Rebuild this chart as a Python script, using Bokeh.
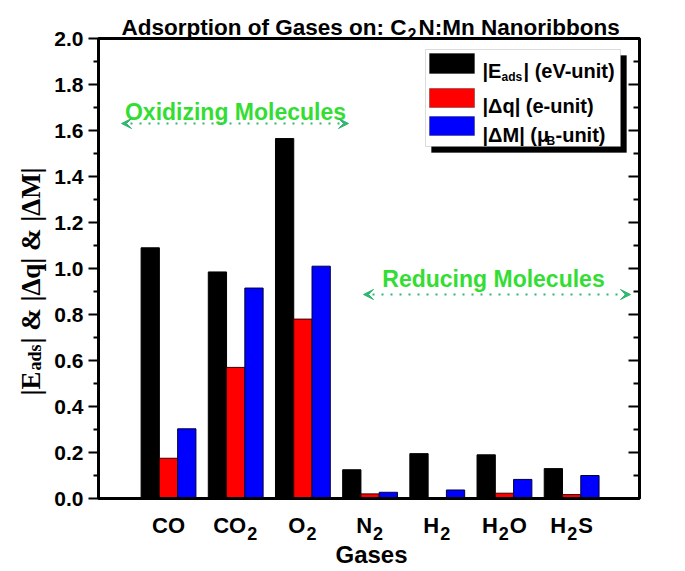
import numpy as np
from bokeh.plotting import figure
from bokeh.models import Label, BoxAnnotation, Arrow, VeeHead, Range1d
from bokeh.core.properties import value
from bokeh.transform import dodge
from bokeh.embed import file_html
from bokeh.resources import INLINE

# ---------------- data ----------------
gases = ["CO", "CO2", "O2", "N2", "H2", "H2O", "H2S"]
gas_label_parts = [
    [("CO", 0)],
    [("CO", 0), ("2", 1)],
    [("O", 0), ("2", 1)],
    [("N", 0), ("2", 1)],
    [("H", 0), ("2", 1)],
    [("H", 0), ("2", 1), ("O", 0)],
    [("H", 0), ("2", 1), ("S", 0)],
]
e_ads = [1.09, 0.985, 1.565, 0.125, 0.195, 0.19, 0.13]
dq = [0.175, 0.57, 0.78, 0.02, 0.0, 0.023, 0.017]
dm = [0.303, 0.915, 1.01, 0.027, 0.037, 0.083, 0.10]
major_ticks = [0.0, 0.2, 0.4, 0.6, 0.8, 1.0, 1.2, 1.4, 1.6, 1.8, 2.0]
minor_ticks = [0.1, 0.3, 0.5, 0.7, 0.9, 1.1, 1.3, 1.5, 1.7, 1.9]
tick_labels = ["0.0", "0.2", "0.4", "0.6", "0.8", "1.0", "1.2", "1.4", "1.6", "1.8", "2.0"]

# ---------------- layout helpers ----------------
CW, CH = 685, 571
FL, FR, FT, FB = 98, 639, 38, 498      # plot-area edges on the page (px)
X0, X1 = -0.042, 8.01
Y0, Y1 = 0.0, 2.0
sx = (X1 - X0) / (FR - FL)
sy = (Y1 - Y0) / (FB - FT)


def xd(px):
    return X0 + (px - FL) * sx


def yd(py):
    return Y1 - (py - FT) * sy


p = figure(width=CW, height=CH,
           x_range=Range1d(xd(0), xd(CW)), y_range=Range1d(yd(CH), yd(0)),
           output_backend="svg", toolbar_location=None,
           min_border=0, min_border_left=0, min_border_right=0,
           min_border_top=0, min_border_bottom=0)
p.axis.visible = False
p.grid.visible = False
p.outline_line_color = None
p.background_fill_color = "white"
p.border_fill_color = "white"

# ---------------- bars ----------------
src = {"x": list(range(1, len(gases) + 1)), "e": e_ads, "q": dq, "m": dm}
bw = 0.272
p.vbar(x=dodge("x", -bw, range=p.x_range), top="e", width=bw, source=src,
       fill_color="black", line_color="black", line_width=1)
p.vbar(x=dodge("x", 0, range=p.x_range), top="q", width=bw, source=src,
       fill_color="#ff0000", line_color="#3a0000", line_width=1)
p.vbar(x=dodge("x", bw, range=p.x_range), top="m", width=bw, source=src,
       fill_color="#0000ff", line_color="#00003a", line_width=1)

# ---------------- axes (drawn by hand) ----------------
p.add_layout(BoxAnnotation(left=X0, right=X1, bottom=Y0, top=Y1, fill_alpha=0,
                           line_color="black", line_width=3, line_alpha=1))
nM, nm = len(major_ticks), len(minor_ticks)
p.segment(x0=[xd(FL - 10)] * nM, y0=major_ticks, x1=[X0] * nM, y1=major_ticks,
          line_color="black", line_width=2)
p.segment(x0=[xd(FL - 5)] * nm, y0=minor_ticks, x1=[X0] * nm, y1=minor_ticks,
          line_color="black", line_width=2)
p.segment(x0=[xd(FR - 11)] * nM, y0=major_ticks, x1=[X1] * nM, y1=major_ticks,
          line_color="black", line_width=2)
p.segment(x0=[xd(FR - 6)] * nm, y0=minor_ticks, x1=[X1] * nm, y1=minor_ticks,
          line_color="black", line_width=2)
p.text(x=[xd(83)] * nM, y=major_ticks, text=tick_labels,
       text_font=value("Liberation Sans"), text_font_style="bold",
       text_font_size=value("21px"), text_color="black",
       text_align="right", text_baseline="middle")


def put(text, px, py, size, color="black", font="Liberation Sans", style="bold",
        align="left", angle=0.0):
    p.add_layout(Label(x=xd(px), y=yd(py), text=text, text_font=font,
                       text_font_size=f"{size}px", text_font_style=style,
                       text_color=color, text_align=align,
                       text_baseline="alphabetic", angle=angle))


# ---------------- title ----------------
put("Adsorption of Gases on: C", 406, 27, 22.5, align="right")
put("2", 407, 33, 16)
put("N:Mn Nanoribbons", 418, 27, 22.5)

# ---------------- category labels ----------------
W = {"C": .722, "O": .778, "N": .722, "H": .722, "S": .667, "2": .556}
MAIN, SUB = 22, 18
for i, parts in enumerate(gas_label_parts):
    widths = [sum(W[c] for c in t) * (SUB if s else MAIN) + (2 if s else 0) for t, s in parts]
    start = -sum(widths) / 2
    for (t, s), w in zip(parts, widths):
        p.add_layout(Label(x=i + 1, x_offset=start + (1 if s else 0),
                           y=yd(533 if s else 525), text=t,
                           text_font="Liberation Sans", text_font_style="bold",
                           text_font_size=f"{SUB if s else MAIN}px", text_color="black",
                           text_align="left", text_baseline="alphabetic"))
        start += w

put("Gases", 371, 554, 24, align="center")

# ---------------- y axis label (rotated, Times-like) ----------------
ang = np.pi / 2
put("|E", 30, 395, 27, font="Liberation Serif", angle=ang)
put("ads", 34, 370, 18, font="Liberation Serif", angle=ang)
put("| & |\u0394q| & |\u0394M|", 30, 343, 27, font="Liberation Serif", angle=ang)

# ---------------- legend ----------------
p.add_layout(BoxAnnotation(left=xd(431), right=xd(626), top=yd(55), bottom=yd(152),
                           fill_color="black", fill_alpha=1, line_color="black"))
p.add_layout(BoxAnnotation(left=xd(425), right=xd(620), top=yd(49), bottom=yd(146),
                           fill_color="white", fill_alpha=1, line_color="#8a8a8a",
                           line_width=1))
for col, top, bot in [("black", 53, 73), ("#ff0000", 88, 107), ("#0000ff", 116, 135)]:
    p.add_layout(BoxAnnotation(left=xd(429), right=xd(474), top=yd(top), bottom=yd(bot),
                               fill_color=col, fill_alpha=1, line_color="black",
                               line_width=1))
LS = 20
put("|E", 482, 70, LS)
put("ads", 501, 76, 12)
put("| (eV-unit)", 523, 70, LS)
put("|\u0394q| (e-unit)", 482, 105, LS)
put("|\u0394M| (\u03bc", 482, 134, LS)
put("B", 546, 140, 12)
put("-unit)", 555, 134, LS)

# ---------------- annotations ----------------
TXT_GREEN = "#33dd33"
ARR_GREEN = "#2eb872"
put("Oxidizing Molecules", 235, 111, 23, color=TXT_GREEN, align="center")
put("Reducing Molecules", 493, 278, 23, color=TXT_GREEN, align="center")
for xa, xb, ya_ in [(121, 348, 123), (363, 630, 294)]:
    p.add_layout(Arrow(start=VeeHead(size=10, fill_color=ARR_GREEN, line_color=ARR_GREEN),
                       end=VeeHead(size=10, fill_color=ARR_GREEN, line_color=ARR_GREEN),
                       x_start=xd(xa), y_start=yd(ya_), x_end=xd(xb), y_end=yd(ya_),
                       line_color=ARR_GREEN, line_width=2, line_dash="2 7"))

open("out.html", "w").write(file_html(p, INLINE))
